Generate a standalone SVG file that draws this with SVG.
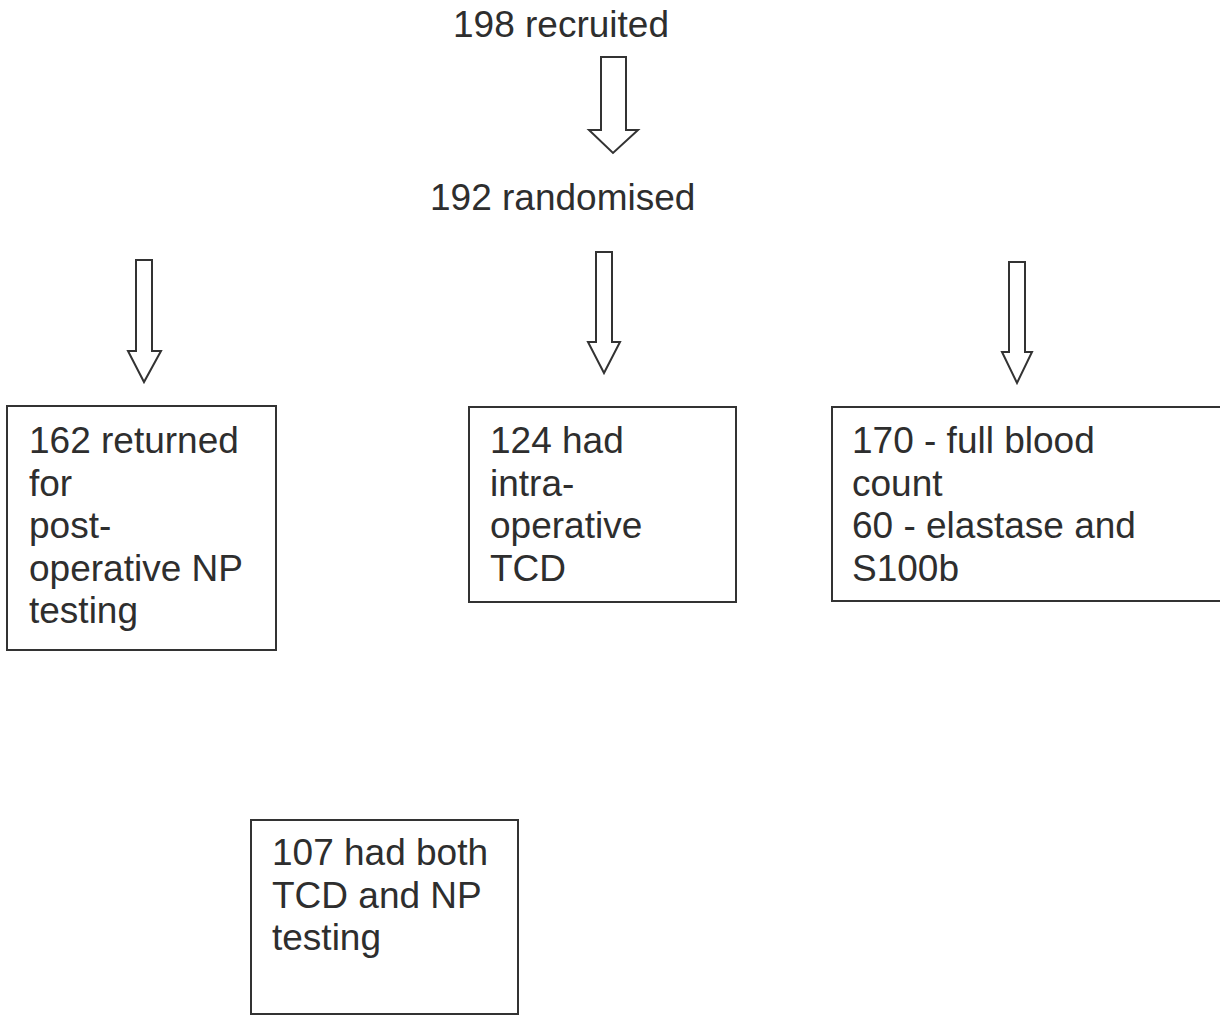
<svg xmlns="http://www.w3.org/2000/svg" width="1220" height="1016" viewBox="0 0 1220 1016">
<style>
.t{font-family:"Liberation Sans",Arial,sans-serif;font-size:37px;fill:#2e2e2e}
.box{fill:#fff;stroke:#333;stroke-width:2}
.arr{fill:#fff;stroke:#333;stroke-width:2;stroke-linejoin:miter}
</style>
<rect width="1220" height="1016" fill="#fff"/>
<g id="recruited"><text class="t" x="453" y="37">198 recruited</text></g>
<g id="randomised"><text class="t" x="430" y="210">192 randomised</text></g>
<g id="connectors">
<polygon class="arr" points="601,57 626,57 626,130 638,130 613,153 589,130 601,130"/>
<polygon class="arr" points="136,260 152,260 152,351 161,351 144,382 128,351 136,351"/>
<polygon class="arr" points="596,252 612,252 612,342 620,342 604,373 588,342 596,342"/>
<polygon class="arr" points="1009,262 1025,262 1025,352 1032,352 1017,383 1002,352 1009,352"/>
</g>
<g id="np">
<rect class="box" x="7" y="406" width="269" height="244"/>
<text class="t" x="29" y="453">162 returned</text>
<text class="t" x="29" y="495.5">for</text>
<text class="t" x="29" y="538">post-</text>
<text class="t" x="29" y="580.5">operative NP</text>
<text class="t" x="29" y="623">testing</text>
</g>
<g id="tcd">
<rect class="box" x="469" y="407" width="267" height="195"/>
<text class="t" x="490" y="453">124 had</text>
<text class="t" x="490" y="495.5">intra-</text>
<text class="t" x="490" y="538">operative</text>
<text class="t" x="490" y="580.5">TCD</text>
</g>
<g id="blood">
<rect class="box" x="832" y="407" width="392" height="194"/>
<text class="t" x="852" y="453">170 - full blood</text>
<text class="t" x="852" y="495.5">count</text>
<text class="t" x="852" y="538">60 - elastase and</text>
<text class="t" x="852" y="580.5">S100b</text>
</g>
<g id="both">
<rect class="box" x="251" y="820" width="267" height="194"/>
<text class="t" x="272" y="865">107 had both</text>
<text class="t" x="272" y="907.5">TCD and NP</text>
<text class="t" x="272" y="950">testing</text>
</g>
</svg>
